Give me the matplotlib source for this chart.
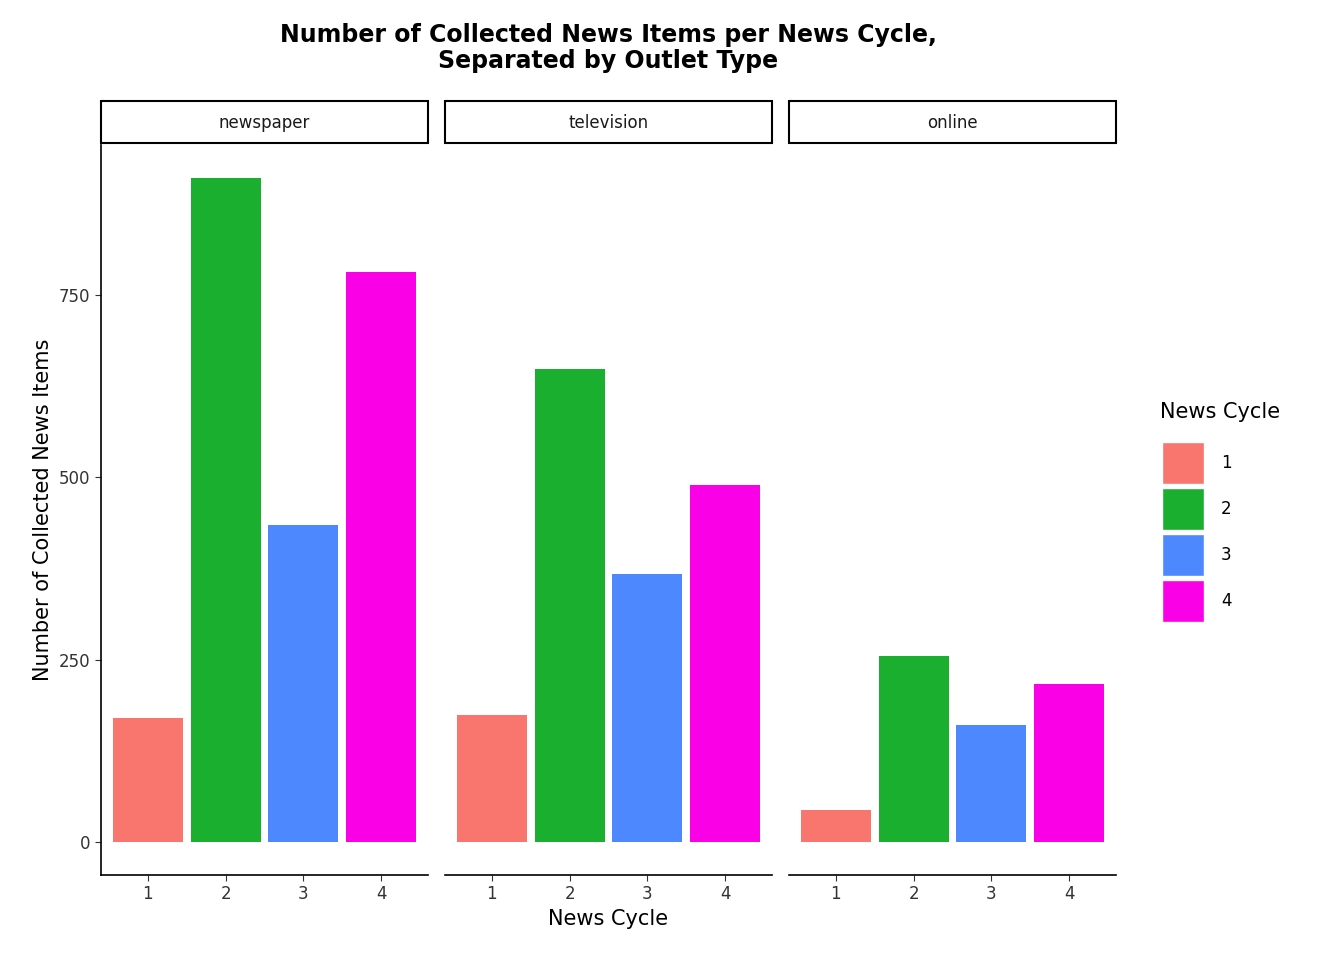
import matplotlib.pyplot as plt
from matplotlib.patches import Rectangle

outlets = ["newspaper", "television", "online"]
cycles = [1, 2, 3, 4]
newspaper = [170, 910, 434, 781]
television = [174, 649, 367, 489]
online = [44, 255, 160, 216]
counts = [newspaper, television, online]
colors = ["#F8766D", "#1AAF2E", "#4E88FF", "#F900E6"]

W, H = 1344, 960
fig = plt.figure(figsize=(W / 100, H / 100), dpi=100)
fig.patch.set_facecolor("white")

lefts = [101, 445, 789]
pw = 327
top, bottom = 145, 875

for i, (name, vals) in enumerate(zip(outlets, counts)):
    ax = fig.add_axes([lefts[i] / W, 1 - bottom / H, pw / W, (bottom - top) / H])
    ax.bar(cycles, vals, width=0.9, color=colors)
    ax.set_xlim(0.4, 4.6)
    ax.set_ylim(-45.5, 955.5)
    ax.set_xticks(cycles)
    ax.set_yticks([0, 250, 500, 750])
    for s in ["top", "right"]:
        ax.spines[s].set_visible(False)
    ax.spines["bottom"].set_linewidth(1.2)
    ax.spines["left"].set_linewidth(1.2)
    ax.tick_params(labelsize=12, colors="#333333", length=4)
    if i > 0:
        ax.spines["left"].set_visible(False)
        ax.tick_params(axis="y", left=False, labelleft=False)
    else:
        ax.set_ylabel("Number of Collected News Items", fontsize=15)
    if i == 1:
        ax.set_xlabel("News Cycle", fontsize=15)
    # facet strip
    fig.patches.append(Rectangle((lefts[i] / W, 1 - 143 / H), pw / W, 42 / H,
                                 transform=fig.transFigure, facecolor="white",
                                 edgecolor="black", linewidth=1.5))
    fig.text((lefts[i] + pw / 2) / W, 1 - 123 / H, name, ha="center", va="center",
             fontsize=12, color="#1a1a1a")

fig.text(608 / W, 1 - 48 / H,
         "Number of Collected News Items per News Cycle,\nSeparated by Outlet Type",
         ha="center", va="center", fontsize=17, fontweight="bold", linespacing=1.1)

# legend
fig.text(1160 / W, 1 - 412 / H, "News Cycle", fontsize=15, va="center")
for j, c in enumerate(colors):
    yc = 463 + j * 46
    fig.patches.append(Rectangle((1162 / W, 1 - (yc + 21) / H), 42 / W, 42 / H,
                                 transform=fig.transFigure, facecolor=c, edgecolor="white"))
    fig.text(1221 / W, 1 - yc / H, str(cycles[j]), fontsize=12, va="center")

fig.savefig("out.png", dpi=100)
